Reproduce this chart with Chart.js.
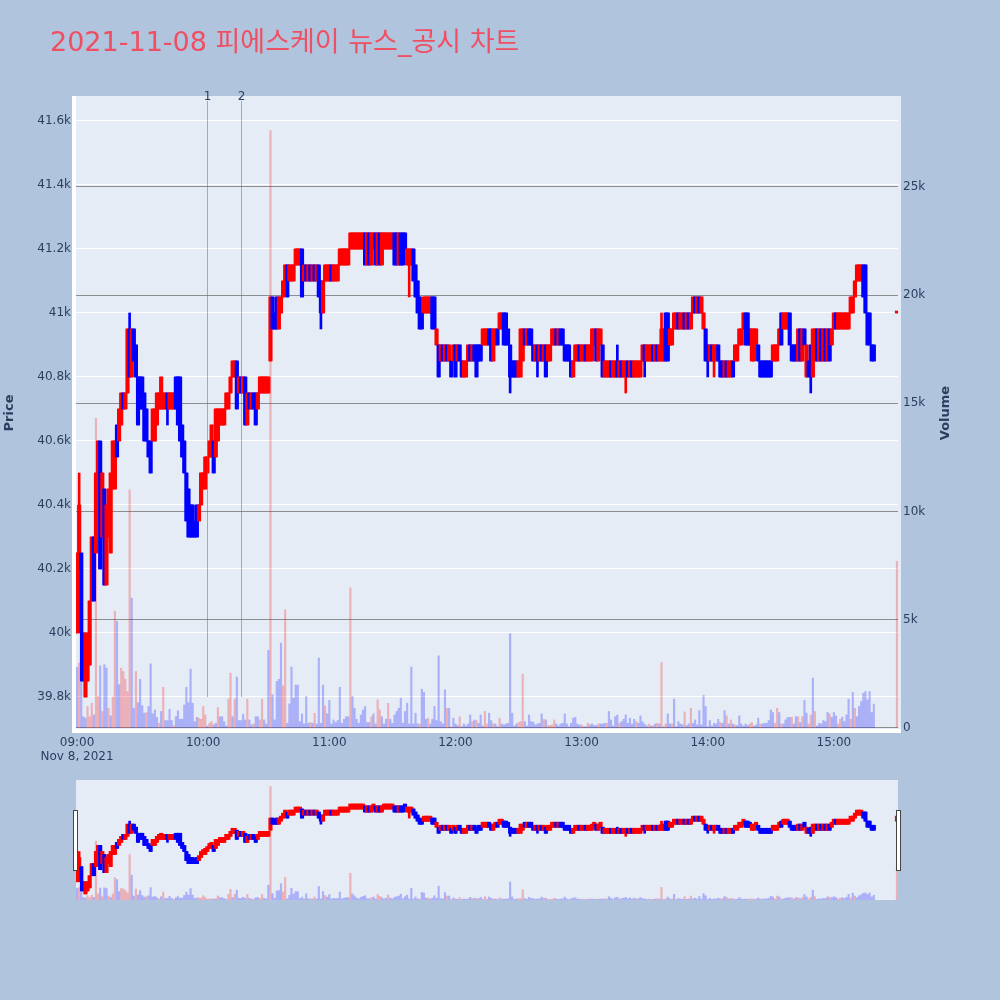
<!DOCTYPE html>
<html>
<head>
<meta charset="utf-8">
<title>피에스케이 뉴스_공시 차트</title>
<script src="https://cdn.jsdelivr.net/npm/chart.js@4.4.0/dist/chart.umd.min.js"></script>
<style>
  html, body { margin: 0; padding: 0; background: #B0C4DE; }
  #wrap { position: relative; width: 1000px; height: 1000px; }
  #main { position: absolute; left: 0; top: 0; width: 1000px; height: 770px; }
  #slider { position: absolute; left: 66px; top: 770px; width: 842px; height: 140px; }
</style>
</head>
<body>
<div id="wrap">
  <canvas id="main" width="1000" height="770"></canvas>
  <canvas id="slider" width="842" height="140"></canvas>
</div>
<script>
/**
 * 2021-11-08 피에스케이 1분봉 + 거래량 + 뉴스/공시 시점
 * x = minutes after 09:00 (the last candle is the 15:30 closing auction)
 */

const chartTitle = '2021-11-08 피에스케이 뉴스_공시 차트';
const sessionDate = 'Nov 8, 2021';
const closeAuctionMinute = 390;

// one candle per minute, 09:00 .. 09:00+379, then the 15:30 close
const opens = [
  40000,40200,40250,40000,39800,39850,39900,40100,40300,40250,
  40450,40600,40300,40450,40150,40300,40250,40450,40450,40650,
  40600,40650,40750,40700,40750,40950,40800,40950,40900,40800,
  40800,40800,40750,40700,40600,40600,40600,40600,40650,40700,
  40700,40700,40700,40750,40700,40700,40700,40800,40800,40800,
  40650,40600,40500,40450,40400,40400,40350,40400,40350,40400,
  40450,40450,40500,40550,40550,40600,40550,40600,40650,40650,
  40650,40700,40700,40750,40800,40800,40850,40750,40800,40750,
  40800,40650,40750,40700,40750,40750,40700,40750,40750,40750,
  40750,40750,40850,41050,41000,41050,40950,41000,41050,41100,
  41150,41100,41100,41100,41150,41150,41150,41200,41100,41150,
  41100,41150,41100,41150,41100,41150,41100,41000,41100,41100,
  41100,41150,41100,41100,41100,41150,41150,41150,41150,41150,
  41200,41200,41200,41200,41200,41200,41200,41250,41150,41250,
  41150,41200,41250,41150,41250,41150,41200,41200,41200,41200,
  41200,41250,41250,41150,41250,41250,41250,41150,41150,41150,
  41200,41150,41100,41050,41000,41000,41000,41000,41000,41050,
  41050,40900,40900,40850,40900,40850,40900,40850,40850,40850,
  40900,40850,40900,40850,40800,40800,40850,40900,40850,40900,
  40900,40900,40900,40900,40900,40900,40950,40950,40850,40900,
  40950,40950,40950,41000,41000,40950,40900,40850,40850,40850,
  40800,40800,40850,40950,40900,40950,40950,40900,40850,40900,
  40850,40900,40850,40900,40850,40850,40900,40900,40950,40900,
  40950,40950,40900,40900,40900,40850,40800,40850,40850,40900,
  40850,40850,40900,40850,40850,40850,40900,40950,40850,40900,
  40900,40800,40800,40800,40850,40800,40800,40850,40800,40850,
  40800,40800,40850,40800,40850,40800,40800,40800,40800,40850,
  40900,40850,40850,40850,40900,40850,40900,40850,40850,40850,
  41000,41000,40900,40900,40950,40950,41000,40950,40950,41000,
  40950,41000,40950,41000,41050,41000,41050,41000,40950,40950,
  40900,40850,40900,40850,40850,40900,40850,40850,40800,40850,
  40800,40800,40850,40850,40850,40900,40900,40950,41000,41000,
  40950,40850,40850,40900,40900,40850,40850,40850,40850,40850,
  40850,40850,40850,40850,40900,41000,40950,40950,40950,41000,
  40900,40900,40900,40850,40950,40850,40950,40800,40850,40900,
  40800,40850,40950,40850,40950,40850,40950,40850,40950,40900,
  40950,41000,40950,40950,40950,40950,40950,40950,41000,41000,
  41050,41100,41100,41100,41150,41150,41000,41000,40900,40900,
  41000
];

const closes = [
  40250,40400,40000,39850,40000,40000,40100,40300,40100,40500,
  40600,40200,40500,40150,40400,40450,40500,40600,40600,40550,
  40700,40750,40700,40750,40950,40800,40950,40850,40800,40650,
  40700,40700,40600,40600,40550,40500,40700,40700,40750,40750,
  40800,40750,40750,40700,40750,40750,40750,40700,40650,40600,
  40550,40500,40350,40300,40300,40300,40300,40300,40400,40500,
  40500,40550,40550,40600,40650,40500,40700,40700,40700,40700,
  40700,40750,40750,40800,40850,40850,40700,40800,40750,40800,
  40650,40750,40700,40750,40700,40650,40750,40800,40800,40800,
  40800,40800,41050,40950,40950,40950,41050,41050,41100,41150,
  41050,41150,41150,41150,41200,41200,41200,41050,41150,41100,
  41150,41100,41150,41100,41150,41050,41000,41100,41150,41150,
  41150,41100,41150,41150,41150,41200,41200,41200,41200,41200,
  41250,41250,41250,41250,41250,41250,41250,41150,41250,41150,
  41250,41250,41150,41250,41150,41250,41250,41250,41250,41250,
  41250,41150,41150,41250,41150,41150,41200,41200,41200,41200,
  41100,41050,41000,40950,40950,41050,41050,41050,41050,40950,
  40950,40950,40800,40900,40850,40900,40850,40900,40800,40900,
  40800,40900,40850,40800,40850,40850,40900,40850,40900,40850,
  40800,40850,40850,40950,40950,40950,40900,40850,40950,40950,
  40900,41000,41000,40900,40900,40900,40800,40800,40800,40800,
  40850,40950,40950,40900,40950,40900,40900,40850,40900,40850,
  40900,40850,40900,40800,40900,40900,40950,40950,40900,40950,
  40900,40900,40850,40850,40850,40800,40850,40900,40900,40850,
  40900,40900,40850,40900,40900,40950,40950,40850,40950,40950,
  40800,40850,40850,40850,40800,40850,40850,40800,40850,40800,
  40850,40850,40800,40850,40800,40850,40850,40850,40850,40900,
  40850,40900,40900,40900,40850,40900,40850,40900,40950,40950,
  40850,40850,40950,40950,41000,41000,40950,41000,41000,40950,
  41000,40950,41000,41050,41000,41050,41000,41050,41000,40850,
  40850,40900,40850,40900,40900,40850,40800,40800,40850,40800,
  40850,40850,40800,40900,40900,40950,40950,41000,40900,40900,
  40900,40950,40950,40950,40850,40800,40800,40800,40800,40800,
  40800,40900,40900,40900,40950,40900,41000,41000,41000,40900,
  40850,40850,40850,40950,40850,40950,40900,40900,40800,40800,
  40950,40950,40850,40950,40850,40950,40850,40950,40850,40950,
  41000,40950,41000,41000,41000,41000,41000,41000,41050,41050,
  41100,41150,41150,41150,41050,41000,40900,40900,40850,40850,
  41000
];

// wicks that reach past the body: [minute, price]
const highWicks = [[1, 40500], [25, 41000], [257, 40900], [278, 41000]];
const lowWicks = [
  [2, 39850], [43, 40650], [116, 40950], [158, 41050], [206, 40750], [219, 40800],
  [261, 40750], [270, 40800], [300, 40800], [303, 40800], [349, 40750]
];

const volumes = [
  2800,3000,2900,520,450,990,520,1140,600,14300,
  1450,2870,760,2920,2760,910,555,1420,5390,4920,
  2000,2760,2610,2250,1680,11000,6000,910,2610,1170,
  2250,1030,680,710,990,2960,650,830,490,220,
  760,1880,340,340,860,340,110,520,790,400,
  400,1060,1880,1170,2720,1140,290,490,450,400,
  990,600,90,215,290,140,215,940,520,520,
  290,90,1330,2530,520,1330,2350,340,340,630,
  370,1330,370,140,185,520,520,370,1330,370,
  185,3580,27600,1530,370,2150,2250,3920,1940,5460,
  215,1110,2810,1370,1980,1980,290,650,185,1450,
  215,250,215,680,185,3230,215,1980,1020,650,
  1270,185,370,250,340,1880,215,400,520,520,
  6470,1450,910,400,215,600,830,990,250,250,
  520,650,185,1300,830,520,185,400,1140,400,
  215,600,760,910,1370,215,760,1140,185,2810,
  185,680,185,185,1790,1640,400,450,185,400,
  990,340,3330,290,185,1760,910,910,60,450,
  185,110,520,60,185,90,185,600,290,370,
  340,215,600,90,760,185,680,340,185,185,
  60,450,185,140,185,215,4350,680,90,185,
  250,290,2480,290,90,600,290,270,140,185,
  215,650,400,370,110,110,140,370,185,90,
  185,215,650,185,60,215,450,490,185,140,
  140,60,60,215,140,185,110,110,185,185,
  185,215,215,760,370,90,520,600,215,290,
  400,600,215,450,185,400,290,215,555,290,
  185,90,185,90,110,185,215,185,3020,60,
  185,650,185,185,1330,60,290,185,140,740,
  110,185,910,215,370,140,800,140,1500,990,
  60,340,90,215,185,400,250,215,800,555,
  185,370,185,140,110,555,185,90,185,110,
  185,250,90,140,450,185,185,215,215,340,
  830,710,215,910,710,185,185,370,480,490,
  490,185,520,520,250,520,1270,680,185,600,
  2300,760,90,215,185,340,290,720,650,490,
  710,555,185,400,500,300,600,1330,400,1640,
  910,520,990,1220,1600,1680,1300,1680,710,1100,
  7700
];

// minutes whose volume bar is drawn in the "up" colour
const volumeUpMinutes = [
  1,5,6,7,9,10,12,15,17,18,21,22,23,24,25,28,33,39,41,46,58,59,60,61,63,64,67,
  72,73,75,81,84,87,88,92,98,99,111,113,118,130,140,143,144,148,163,167,176,178,
  182,188,190,194,195,198,201,210,211,212,222,224,225,226,227,240,243,248,252,
  258,266,272,274,276,278,280,283,289,292,306,309,311,313,320,321,325,332,333,
  335,340,343,345,348,349,351,358,362,363,368,370,390
];

// news / disclosure markers
const newsMinutes = [62, 78];
const newsLabels = ['1', '2'];

const timeTicks = [0, 60, 120, 180, 240, 300, 360];
const priceTicks = [39800, 40000, 40200, 40400, 40600, 40800, 41000, 41200, 41400, 41600];
const volumeTicks = [0, 5000, 10000, 15000, 20000, 25000];

const UP = '#FF0000';
const DOWN = '#0000FF';
const UP_VOL = 'rgba(255, 0, 0, 0.25)';
const DOWN_VOL = 'rgba(0, 0, 255, 0.25)';
const TEXT = '#2a3f5f';
const FONT = '"DejaVu Sans", Verdana, sans-serif';

const X_RANGE = { min: -0.5, max: 390.5 };
const PRICE_RANGE = { min: 39700, max: 41678 };
const VOLUME_RANGE = { min: -50, max: 29200 };

Chart.defaults.font.family = FONT;

// --- derived candle fields
const minutes = opens.map((_, i) => (i === opens.length - 1 ? closeAuctionMinute : i));
const highs = opens.map((o, i) => Math.max(o, closes[i]));
const lows = opens.map((o, i) => Math.min(o, closes[i]));
highWicks.forEach(([m, p]) => { highs[minutes.indexOf(m)] = p; });
lowWicks.forEach(([m, p]) => { lows[minutes.indexOf(m)] = p; });

function pad2(n) {
  return String(n).padStart(2, '0');
}

function timeLabel(m) {
  return pad2(9 + Math.floor(m / 60)) + ':' + pad2(m % 60);
}

function buildDatasets(size) {
  const candleColors = minutes.map((_, i) => (closes[i] >= opens[i] ? UP : DOWN));
  return [
    {
      label: 'body',
      yAxisID: 'y',
      order: 1,
      barThickness: size.body,
      minBarLength: size.minLen,
      data: minutes.map((m, i) => ({ x: m, y: [opens[i], closes[i]] })),
      backgroundColor: candleColors
    },
    {
      label: 'wick',
      yAxisID: 'y',
      order: 2,
      barThickness: size.wick,
      data: minutes.map((m, i) => ({ x: m, y: [lows[i], highs[i]] })),
      backgroundColor: candleColors
    },
    {
      label: 'volume',
      yAxisID: 'yv',
      order: 3,
      barThickness: size.vol,
      data: minutes.map((m, i) => ({ x: m, y: volumes[i] })),
      backgroundColor: minutes.map(m => (volumeUpMinutes.includes(m) ? UP_VOL : DOWN_VOL))
    }
  ];
}

// plot background, incl. the white edge on the left and bottom
const plotBackground = {
  id: 'plotBackground',
  beforeDraw(chart) {
    const ctx = chart.ctx;
    const a = chart.chartArea;
    ctx.save();
    ctx.fillStyle = '#ffffff';
    ctx.fillRect(a.left - 4, a.top, a.right - a.left + 7, a.bottom - a.top + 4);
    ctx.fillStyle = '#E5ECF6';
    ctx.fillRect(a.left, a.top, a.right - a.left + 3, a.bottom - a.top);
    ctx.restore();
  }
};

const overlay = {
  id: 'overlay',
  afterDatasetsDraw(chart) {
    const ctx = chart.ctx;
    const x = chart.scales.x;
    const y = chart.scales.y;
    ctx.save();
    newsMinutes.forEach((m, i) => {
      const px = Math.round(x.getPixelForValue(m)) + 0.5;
      ctx.strokeStyle = 'rgba(70, 100, 200, 0.5)';
      ctx.lineWidth = 1;
      ctx.beginPath();
      ctx.moveTo(px, chart.chartArea.top + 5);
      ctx.lineTo(px, y.getPixelForValue(priceTicks[0]));
      ctx.stroke();
      ctx.fillStyle = TEXT;
      ctx.font = '12px ' + FONT;
      ctx.textAlign = 'center';
      ctx.textBaseline = 'middle';
      ctx.fillText(newsLabels[i], px, chart.chartArea.top + 1);
    });
    ctx.restore();
  },
  afterDraw(chart) {
    const ctx = chart.ctx;
    ctx.save();
    ctx.fillStyle = '#EF4F63';
    ctx.font = '27px ' + FONT + ', "Noto Sans CJK KR"';
    ctx.textAlign = 'left';
    ctx.textBaseline = 'alphabetic';
    ctx.fillText(chartTitle, 50, 51);

    ctx.fillStyle = TEXT;
    ctx.font = '12px ' + FONT;
    ctx.textAlign = 'center';
    ctx.textBaseline = 'middle';
    ctx.fillText(sessionDate, chart.scales.x.getPixelForValue(0), 757);

    ctx.font = 'bold 13px ' + FONT;
    ctx.translate(10, 413);
    ctx.rotate(-Math.PI / 2);
    ctx.fillText('Price', 0, 0);
    ctx.setTransform(1, 0, 0, 1, 0, 0);
    ctx.translate(946, 413);
    ctx.rotate(-Math.PI / 2);
    ctx.fillText('Volume', 0, 0);
    ctx.restore();
  }
};

const PriceChart = {
  chart: null,

  init() {
    const ctx = document.getElementById('main');
    this.chart = new Chart(ctx, {
      type: 'bar',
      data: { datasets: buildDatasets({ body: 3.5, wick: 2, vol: 1.5, minLen: 2 }) },
      options: {
        responsive: false,
        devicePixelRatio: 1,
        animation: false,
        layout: { padding: { top: 96, left: 0, right: 0, bottom: 0 } },
        datasets: { bar: { grouped: false } },
        plugins: { legend: { display: false }, tooltip: { enabled: false } },
        scales: {
          x: {
            type: 'linear',
            min: X_RANGE.min,
            max: X_RANGE.max,
            offset: false,
            grid: { display: false, drawTicks: false },
            border: { display: false },
            afterBuildTicks: s => { s.ticks = timeTicks.map(v => ({ value: v })); },
            afterFit: s => { s.height = 41; },
            ticks: {
              autoSkip: false,
              maxRotation: 0,
              padding: 7,
              color: TEXT,
              font: { size: 12 },
              callback: v => timeLabel(v)
            }
          },
          y: {
            position: 'left',
            min: PRICE_RANGE.min,
            max: PRICE_RANGE.max,
            grid: { color: '#ffffff', lineWidth: 1, drawTicks: false },
            border: { display: false },
            afterBuildTicks: s => { s.ticks = priceTicks.map(v => ({ value: v })); },
            afterFit: s => { s.width = 76; },
            ticks: {
              padding: 5,
              color: TEXT,
              font: { size: 12 },
              callback: v => (v / 1000) + 'k'
            }
          },
          yv: {
            position: 'right',
            min: VOLUME_RANGE.min,
            max: VOLUME_RANGE.max,
            grid: { color: 'rgba(110, 110, 110, 0.75)', lineWidth: 1, drawTicks: false },
            border: { display: false },
            afterBuildTicks: s => { s.ticks = volumeTicks.map(v => ({ value: v })); },
            afterFit: s => { s.width = 102; },
            ticks: {
              padding: 5,
              color: TEXT,
              font: { size: 12 },
              callback: v => (v === 0 ? '0' : (v / 1000) + 'k')
            }
          }
        }
      },
      plugins: [plotBackground, overlay]
    });
  }
};

// range slider: the whole session in miniature
const sliderDecor = {
  id: 'sliderDecor',
  beforeDraw(chart) {
    const a = chart.chartArea;
    chart.ctx.save();
    chart.ctx.fillStyle = '#E5ECF6';
    chart.ctx.fillRect(a.left, a.top, a.right - a.left, a.bottom - a.top);
    chart.ctx.restore();
  },
  afterDraw(chart) {
    const ctx = chart.ctx;
    const a = chart.chartArea;
    ctx.save();
    ctx.fillStyle = '#ffffff';
    ctx.strokeStyle = '#444444';
    ctx.lineWidth = 1;
    [a.left - 3, a.right - 2].forEach(left => {
      ctx.fillRect(left, a.top + 30, 4, 60);
      ctx.strokeRect(left + 0.5, a.top + 30.5, 4, 60);
    });
    ctx.restore();
  }
};

const RangeSlider = {
  chart: null,

  init() {
    const ctx = document.getElementById('slider');
    const hidden = { display: false };
    this.chart = new Chart(ctx, {
      type: 'bar',
      data: { datasets: buildDatasets({ body: 3.5, wick: 2, vol: 1.5, minLen: 5 }) },
      options: {
        responsive: false,
        devicePixelRatio: 1,
        animation: false,
        layout: { padding: { top: 10, left: 10, right: 10, bottom: 10 } },
        datasets: { bar: { grouped: false } },
        plugins: { legend: hidden, tooltip: { enabled: false } },
        scales: {
          x: { type: 'linear', min: X_RANGE.min, max: X_RANGE.max, offset: false, display: false },
          y: { min: PRICE_RANGE.min, max: PRICE_RANGE.max, display: false },
          yv: { position: 'right', min: VOLUME_RANGE.min, max: VOLUME_RANGE.max, display: false }
        }
      },
      plugins: [sliderDecor]
    });
  }
};

PriceChart.init();
RangeSlider.init();
</script>
</body>
</html>
